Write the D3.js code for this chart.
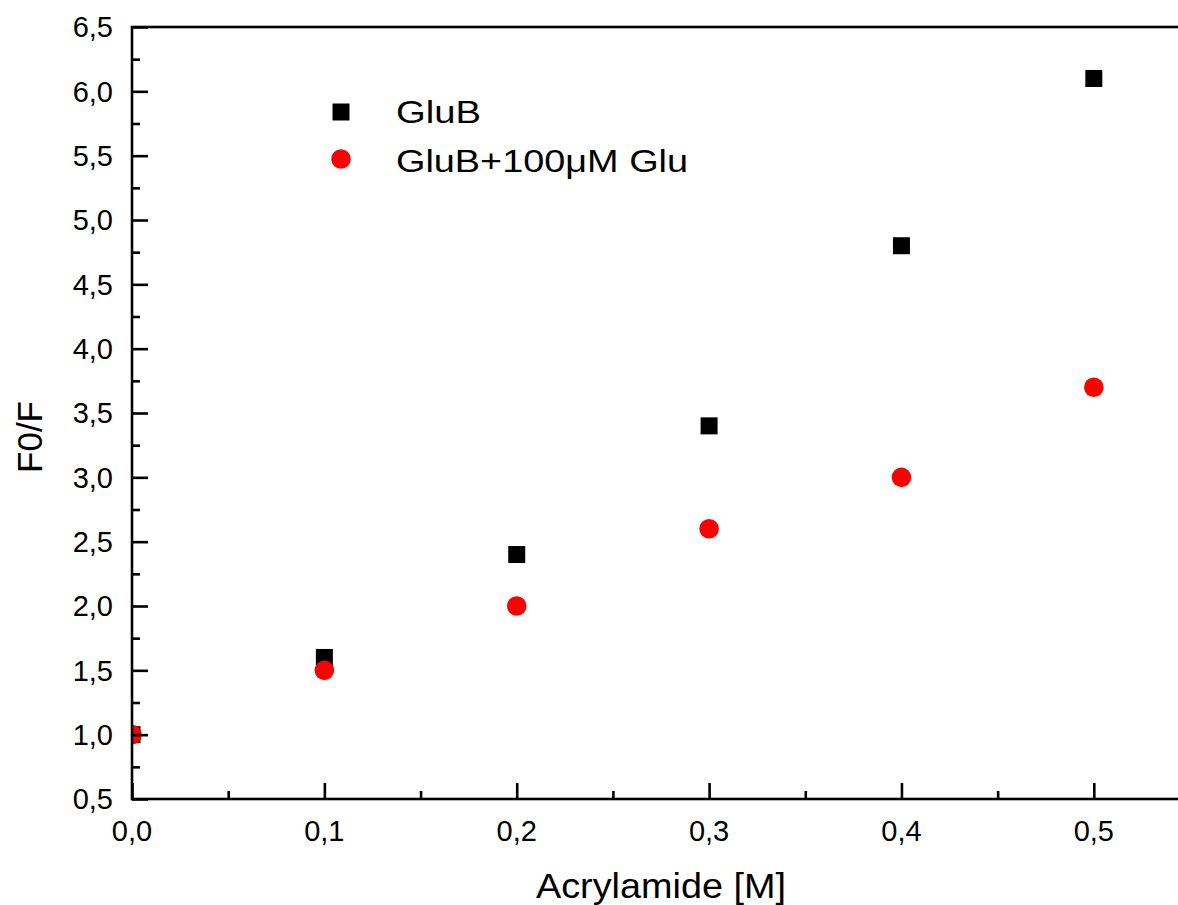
<!DOCTYPE html>
<html>
<head>
<meta charset="utf-8">
<script src="https://cdn.jsdelivr.net/npm/d3@7"></script>
<style>
  html, body { margin: 0; padding: 0; background: #fff; }
  svg { display: block; }
  text { font-family: "Liberation Sans", Arial, sans-serif; fill: #000; }
</style>
</head>
<body>
<svg id="chart" width="1178" height="905"></svg>
<script>
// ---- data ----
const xValues = [0.0, 0.1, 0.2, 0.3, 0.4, 0.5];
const glubValues = [1.0, 1.6, 2.4, 3.4, 4.8, 6.1];
const glubGluValues = [1.0, 1.5, 2.0, 2.6, 3.0, 3.7];
const seriesNames = ["GluB", "GluB+100\u03BCM Glu"];
const xTickValues = [0.0, 0.1, 0.2, 0.3, 0.4, 0.5];
const yTickValues = [0.5, 1.0, 1.5, 2.0, 2.5, 3.0, 3.5, 4.0, 4.5, 5.0, 5.5, 6.0, 6.5];
const xMinorTicks = [0.05, 0.15, 0.25, 0.35, 0.45];
const yMinorTicks = [0.75, 1.25, 1.75, 2.25, 2.75, 3.25, 3.75, 4.25, 4.75, 5.25, 5.75, 6.25];
const xTitle = "Acrylamide [M]";
const yTitle = "F0/F";

// ---- layout ----
const svg = d3.select("#chart");
const pLeft = 132, pTop = 27, pBottom = 799, pRight = 1190;
const x = d3.scaleLinear().domain([0, 0.55]).range([pLeft, pRight]);
const y = d3.scaleLinear().domain([0.5, 6.5]).range([pBottom, pTop]);
const fmt = d => d3.format(".1f")(d).replace(".", ",");

// clip
svg.append("defs").append("clipPath").attr("id", "plotclip")
  .append("rect").attr("x", pLeft).attr("y", pTop)
  .attr("width", pRight - pLeft).attr("height", pBottom - pTop);

const plot = svg.append("g").attr("clip-path", "url(#plotclip)");

// squares (GluB)
const sq = 17;
plot.selectAll("rect.glub").data(xValues.map((v, i) => [v, glubValues[i]]))
  .enter().append("rect").attr("class", "glub")
  .attr("x", d => x(d[0]) - sq / 2).attr("y", d => y(d[1]) - sq / 2)
  .attr("width", sq).attr("height", sq).attr("fill", "#000");

// circles (GluB + Glu)
plot.selectAll("circle.glu").data(xValues.map((v, i) => [v, glubGluValues[i]]))
  .enter().append("circle").attr("class", "glu")
  .attr("cx", d => x(d[0])).attr("cy", d => y(d[1]))
  .attr("r", 9.8).attr("fill", "#ff0000");

// frame
const lw = 2.6;
svg.append("rect").attr("x", pLeft).attr("y", pTop)
  .attr("width", pRight - pLeft).attr("height", pBottom - pTop)
  .attr("fill", "none").attr("stroke", "#000").attr("stroke-width", lw);

// x axis (ticks inward)
const xAxisG = svg.append("g").attr("transform", `translate(0,${pBottom})`);
xAxisG.call(d3.axisTop(x).tickValues(xTickValues).tickSize(16).tickFormat(""));
xAxisG.append("g").call(d3.axisTop(x).tickValues(xMinorTicks).tickSize(8).tickFormat(""));
xAxisG.selectAll(".domain").remove();
xAxisG.selectAll("line").attr("stroke", "#000").attr("stroke-width", lw);
svg.append("g").selectAll("text").data(xTickValues).enter().append("text")
  .attr("x", d => x(d)).attr("y", pBottom + 42)
  .attr("text-anchor", "middle").attr("font-size", 29).text(fmt);

// y axis (ticks inward)
const yAxisG = svg.append("g").attr("transform", `translate(${pLeft},0)`);
yAxisG.call(d3.axisRight(y).tickValues(yTickValues).tickSize(16).tickFormat(""));
yAxisG.append("g").call(d3.axisRight(y).tickValues(yMinorTicks).tickSize(8).tickFormat(""));
yAxisG.selectAll(".domain").remove();
yAxisG.selectAll("line").attr("stroke", "#000").attr("stroke-width", lw);
svg.append("g").selectAll("text").data(yTickValues).enter().append("text")
  .attr("x", pLeft - 19).attr("y", d => y(d))
  .attr("dy", "0.36em")
  .attr("text-anchor", "end").attr("font-size", 29).text(fmt);

// axis titles
svg.append("text").attr("x", (pLeft + pRight) / 2).attr("y", 898)
  .attr("text-anchor", "middle").attr("font-size", 35)
  .attr("textLength", 250).attr("lengthAdjust", "spacingAndGlyphs")
  .text(xTitle);
svg.append("text").attr("transform", `translate(42,437) rotate(-90)`)
  .attr("text-anchor", "middle").attr("font-size", 35).text(yTitle);

// legend
const lg = svg.append("g");
lg.append("rect").attr("x", 341 - sq / 2).attr("y", 112 - sq / 2)
  .attr("width", sq).attr("height", sq).attr("fill", "#000");
lg.append("circle").attr("cx", 341).attr("cy", 159).attr("r", 9.8).attr("fill", "#ff0000");
lg.append("text").attr("x", 396).attr("y", 123).attr("font-size", 31)
  .attr("textLength", 85).attr("lengthAdjust", "spacingAndGlyphs").text(seriesNames[0]);
lg.append("text").attr("x", 396).attr("y", 172).attr("font-size", 31)
  .attr("textLength", 292).attr("lengthAdjust", "spacingAndGlyphs").text(seriesNames[1]);
</script>
</body>
</html>
